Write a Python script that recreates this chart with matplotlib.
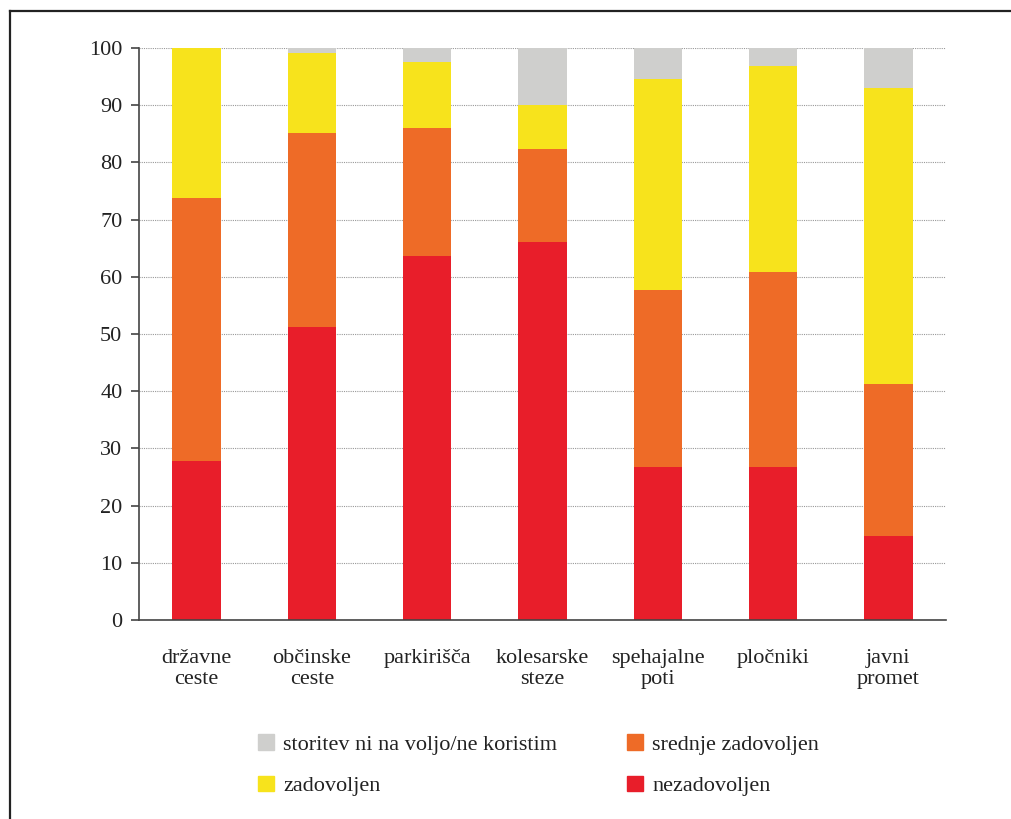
import matplotlib.pyplot as plt
from matplotlib.lines import Line2D
from matplotlib.patches import Patch
import numpy as np

categories = ["državne\nceste", "občinske\nceste", "parkirišča", "kolesarske\nsteze",
              "spehajalne\npoti", "pločniki", "javni\npromet"]
nezadovoljen = np.array([27.8, 51.2, 63.6, 66.1, 26.7, 26.7, 14.7])
srednje = np.array([46.0, 33.9, 22.4, 16.2, 31.0, 34.1, 26.6])
zadovoljen = np.array([26.2, 14.0, 11.6, 7.7, 36.9, 36.1, 51.7])
ni_na_voljo = np.array([0.0, 0.9, 2.4, 10.0, 5.4, 3.1, 7.0])

c_red = "#e81e2a"
c_orange = "#ee6b27"
c_yellow = "#f7e31c"
c_gray = "#cfcfcd"

plt.rcParams['font.family'] = ['Liberation Serif', 'DejaVu Serif']

fig = plt.figure(figsize=(10.12, 8.19), dpi=100)
ax = fig.add_axes([0.1374, 0.2430, 0.7974, 0.6984])

x = np.arange(len(categories))
w = 0.42
ax.bar(x, nezadovoljen, w, color=c_red, zorder=2)
ax.bar(x, srednje, w, bottom=nezadovoljen, color=c_orange, zorder=2)
b2 = nezadovoljen + srednje
ax.bar(x, zadovoljen, w, bottom=b2, color=c_yellow, zorder=2)
b3 = b2 + zadovoljen
ax.bar(x, ni_na_voljo, w, bottom=b3, color=c_gray, zorder=2)

ax.set_xlim(-0.5, 6.5)
ax.set_ylim(0, 100)
ax.set_yticks(np.arange(0, 101, 10))
ax.yaxis.grid(True, linestyle=(0, (1, 1)), color="#999999", lw=0.8, zorder=0)
ax.set_xticks(x)
ax.set_xticklabels(categories, fontsize=16, color="#222222", linespacing=1.15)
ax.tick_params(axis='x', length=0, pad=21)
ax.tick_params(axis='y', length=6, width=1.2, color="#444444", labelsize=16,
               labelcolor="#222222", pad=6)
for s in ['top', 'right']:
    ax.spines[s].set_visible(False)
for s in ['left', 'bottom']:
    ax.spines[s].set_color("#444444")
    ax.spines[s].set_linewidth(1.2)

handles = [Patch(color=c_gray), Patch(color=c_yellow), Patch(color=c_orange), Patch(color=c_red)]
labels = ["storitev ni na voljo/ne koristim", "zadovoljen", "srednje zadovoljen", "nezadovoljen"]
fig.legend(handles, labels, ncol=2, loc='upper left', bbox_to_anchor=(0.255, 0.104),
           frameon=False, fontsize=16, handlelength=0.72, handleheight=0.72,
           handletextpad=0.4, columnspacing=3.17, labelspacing=0.95,
           borderpad=0, borderaxespad=0, labelcolor="#222222")

# frame
fx = 10 / 1012
fy = 1 - 11 / 819
fig.add_artist(Line2D([fx, 1], [fy, fy], color="#222222", lw=1.6, transform=fig.transFigure))
fig.add_artist(Line2D([fx, fx], [0, fy], color="#222222", lw=1.6, transform=fig.transFigure))

fig.savefig("out.png", dpi=100)
